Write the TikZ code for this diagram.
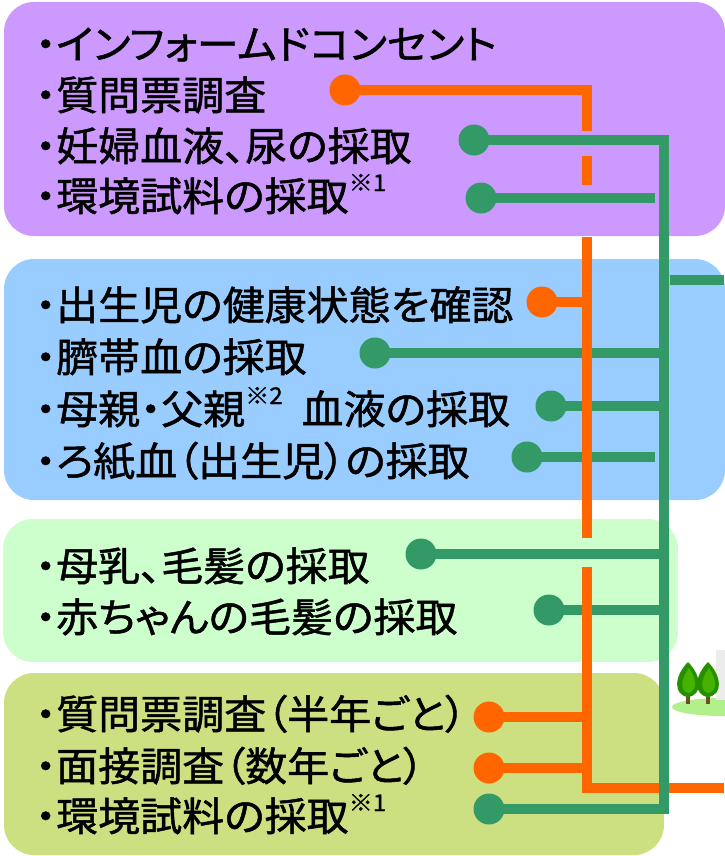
\documentclass[tikz,border=0pt]{standalone}
\usepackage{fontspec}
\newfontfamily\jp[RawFeature=+palt, FakeStretch=1.05, FakeBold=1.2]{Noto Sans CJK JP}
\definecolor{purplebox}{HTML}{CC99FF}
\definecolor{bluebox}{HTML}{99CCFF}
\definecolor{mintbox}{HTML}{CCFFCC}
\definecolor{olivebox}{HTML}{CDE081}
\definecolor{orangeline}{HTML}{FF6600}
\definecolor{greenline}{HTML}{339966}
\newcommand{\kome}[1]{\raisebox{0.5em}{\fontsize{23}{23}\selectfont ※#1}}
\begin{document}
\begin{tikzpicture}[x=1pt, y=-1pt,
    box/.style={rounded corners=30pt},
    item/.style={anchor=base west, inner sep=0pt, font=\jp\fontsize{40}{48}\selectfont},
    oline/.style={orangeline, line width=10pt},
    gline/.style={greenline, line width=10pt},
    odot/.style={circle, fill=orangeline, minimum size=31pt, inner sep=0pt},
    gdot/.style={circle, fill=greenline, minimum size=31pt, inner sep=0pt}]
    \useasboundingbox (0,0) rectangle (724,856);

    % Background boxes
    \fill[purplebox, box] (4,2) rectangle (725,236);
    \fill[bluebox, box] (4,259) rectangle (725,500);
    \fill[mintbox, box] (3,519) rectangle (678,662);
    \fill[olivebox, box] (4,673) rectangle (664,855);

    % Trees on the right
    \fill[green!30!olivebox, opacity=0.7] (722,707) ellipse (50 and 9);
    \fill[gray!15] (716,650) rectangle (726,700);
    \foreach \tx in {688,708} {
        \fill[brown!60!black] (\tx-2,690) rectangle (\tx+2,704);
        \fill[green!45!black!80!lime] (\tx,662) .. controls (\tx-14,676) and (\tx-15,695) .. (\tx,697)
            .. controls (\tx+15,695) and (\tx+14,676) .. (\tx,662);
        \fill[lime!60!green!80!black, opacity=0.6] (\tx+1,668) .. controls (\tx-8,680) and (\tx-8,692) .. (\tx+1,693)
            .. controls (\tx+9,690) and (\tx+9,680) .. (\tx+1,668);
    }

    % Items
    \node[item] (p1) at (35,59) {・インフォームドコンセント};
    \node[item] (p2) at (35,110) {・質問票調査};
    \node[item] (p3) at (35,161) {・妊婦血液、尿の採取};
    \node[item] (p4) at (35,211) {・環境試料の採取\kome{1}};

    \node[item] (b1) at (35,320) {・出生児の健康状態を確認};
    \node[item] (b2) at (35,372) {・臍帯血の採取};
    \node[item] (b3) at (35,424) {・母親・父親\kome{2}\ \ 血液の採取};
    \node[item] (b4) at (35,476) {・ろ紙血（出生児）の採取};

    \node[item] (m1) at (35,581) {・母乳、毛髪の採取};
    \node[item] (m2) at (35,632) {・赤ちゃんの毛髪の採取};

    \node[item] (o1) at (35,729) {・質問票調査（半年ごと）};
    \node[item] (o2) at (35,781) {・面接調査（数年ごと）};
    \node[item] (o3) at (35,831) {・環境試料の採取\kome{1}};

    % Connector dots
    \node[odot] (dq) at (345,90) {};
    \node[gdot] (dp3) at (474,140) {};
    \node[gdot] (dp4) at (481,198) {};
    \node[odot] (db1) at (542,302) {};
    \node[gdot] (db2) at (375,353) {};
    \node[gdot] (db3) at (551,406) {};
    \node[gdot] (db4) at (527,457) {};
    \node[gdot] (dm1) at (421,554) {};
    \node[gdot] (dm2) at (549,610) {};
    \node[odot] (do1) at (489,717) {};
    \node[odot] (do2) at (489,768) {};
    \node[gdot] (do3) at (489,809) {};

    % Bus lines
    \coordinate (ob) at (587,0);
    \coordinate (gb) at (664,0);
    \coordinate (gshort) at (655,0);
    \coordinate (oend) at (724,788);
    \coordinate (gout1) at (670,280);
    \coordinate (gout2) at (724,280);

    % Green branches
    \draw[gline] (dp4.center) -- (dp4 -| gshort);
    \draw[gline] (db2.center) -- (db2 -| gb);
    \draw[gline] (db3.center) -- (db3 -| gb);
    \draw[gline] (db4.center) -- (db4 -| gshort);
    \draw[gline] (dm1.center) -- (dm1 -| gb);
    \draw[gline] (dm2.center) -- (dm2 -| gb);
    \draw[gline] (gout1) -- (gout2);

    % Orange line, broken where the green lines pass
    \draw[oline] (dq.center) -- (dq -| ob) -- (587,131);
    \draw[oline] (587,156) -- (587,185);
    \draw[oline] (587,237) -- (587,538);
    \draw[oline] (587,567) -- (oend -| ob) -- (oend);
    \draw[oline] (db1.center) -- (db1 -| ob);
    \draw[oline] (do1.center) -- (do1 -| ob);
    \draw[oline] (do2.center) -- (do2 -| ob);

    % Green main line
    \draw[gline] (dp3.center) -- (dp3 -| gb) -- (do3 -| gb) -- (do3.center);
\end{tikzpicture}
\end{document}
